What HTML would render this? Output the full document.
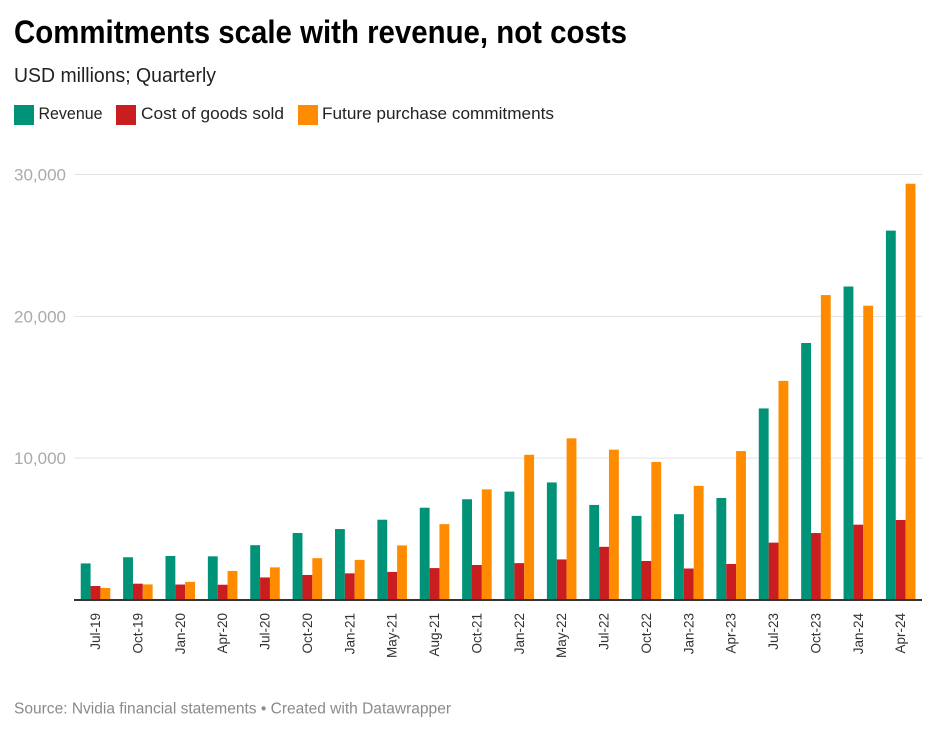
<!DOCTYPE html>
<html>
<head>
<meta charset="utf-8">
<style>
html,body{margin:0;padding:0;background:#fff;width:936px;height:732px;overflow:hidden}
svg{display:block;font-family:"Liberation Sans",sans-serif}
</style>
</head>
<body>
<svg id="chart" width="936" height="732" viewBox="0 0 936 732" xmlns="http://www.w3.org/2000/svg">
  <text x="14" y="43" font-size="32" font-weight="700" fill="#000" textLength="613" lengthAdjust="spacingAndGlyphs">Commitments scale with revenue, not costs</text>
  <text x="14" y="82" font-size="20" fill="#222" textLength="202" lengthAdjust="spacingAndGlyphs">USD millions; Quarterly</text>
  <g>
    <rect x="14" y="105" width="20" height="20" fill="#009378"/>
    <text x="38.5" y="119" font-size="17" fill="#222" textLength="64" lengthAdjust="spacingAndGlyphs">Revenue</text>
    <rect x="116" y="105" width="20" height="20" fill="#c91d1f"/>
    <text x="141" y="119" font-size="16.5" fill="#222" textLength="143" lengthAdjust="spacingAndGlyphs">Cost of goods sold</text>
    <rect x="298" y="105" width="20" height="20" fill="#ff8c00"/>
    <text x="322" y="119" font-size="16.5" fill="#222" textLength="232" lengthAdjust="spacingAndGlyphs">Future purchase commitments</text>
  </g>
  <g id="grid"></g>
  <g id="bars"></g>
  <g id="xlabels"></g>
  <rect x="74" y="599" width="848" height="2" fill="#333"/>
  <text x="14" y="713.5" font-size="15.5" fill="#8a8a8a" textLength="437" lengthAdjust="spacingAndGlyphs">Source: Nvidia financial statements • Created with Datawrapper</text>
</svg>
<script>
const categories = ["Jul-19","Oct-19","Jan-20","Apr-20","Jul-20","Oct-20","Jan-21","May-21","Aug-21","Oct-21","Jan-22","May-22","Jul-22","Oct-22","Jan-23","Apr-23","Jul-23","Oct-23","Jan-24","Apr-24"];
const revenue = [2579,3014,3105,3080,3866,4726,5003,5661,6507,7103,7643,8288,6704,5931,6051,7192,13507,18120,22103,26044];
const costOfGoods = [986,1150,1090,1076,1590,1766,1880,1980,2250,2470,2600,2860,3750,2750,2220,2540,4045,4720,5310,5640];
const commitments = [850,1100,1280,2050,2300,2950,2830,3850,5350,7800,10240,11400,10600,9730,8050,10500,15450,21500,20750,29350];
const yTicks = [10000,20000,30000];
const yTickLabels = ["10,000","20,000","30,000"];

const NS = "http://www.w3.org/2000/svg";
const plotBottom = 600, pxPerUnit = 425.5 / 30000;
const firstCenter = 95.5, groupPitch = (900.7 - 95.5) / 19, barWidth = 9.85;
function yScale(v){ return plotBottom - v * pxPerUnit; }
function xScale(i){ return firstCenter + i * groupPitch; }

const gridGroup = document.getElementById("grid");
yTicks.forEach(function(t, i){
  const y = yScale(t);
  const line = document.createElementNS(NS, "line");
  
  
  line.setAttribute("x1", 74);
  line.setAttribute("x2", 922);
  line.setAttribute("y1", y);
  line.setAttribute("y2", y);
  line.setAttribute("stroke", "#e3e3e3");
  line.setAttribute("stroke-width", "1");
  gridGroup.appendChild(line);
  const label = document.createElementNS(NS, "text");
  
  
  label.setAttribute("x", 14);
  label.setAttribute("y", y + 6);
  label.setAttribute("font-size", "17");
  label.setAttribute("fill", "#aaaaaa");
  label.setAttribute("textLength", "52");
  label.setAttribute("lengthAdjust", "spacingAndGlyphs");
  label.textContent = yTickLabels[i];
  gridGroup.appendChild(label);
});

const barsGroup = document.getElementById("bars");
function drawSeries(values, offset, color, name){
  values.forEach(function(v, i){
    const r = document.createElementNS(NS, "rect");
    
    
    r.setAttribute("x", xScale(i) + offset * barWidth - barWidth / 2);
    r.setAttribute("y", yScale(v));
    r.setAttribute("width", barWidth);
    r.setAttribute("height", plotBottom - yScale(v));
    r.setAttribute("fill", color);
    barsGroup.appendChild(r);
  });
}
drawSeries(revenue, -1, "#009378", "bar-revenue");
drawSeries(costOfGoods, 0, "#c91d1f", "bar-cost-of-goods-sold");
drawSeries(commitments, 1, "#ff8c00", "bar-future-purchase-commitments");

const xGroup = document.getElementById("xlabels");
categories.forEach(function(c, i){
  const x = xScale(i) + 4.5, y = 613;
  const t = document.createElementNS(NS, "text");
  
  
  t.setAttribute("x", x);
  t.setAttribute("y", y);
  t.setAttribute("font-size", "13.5");
  t.setAttribute("fill", "#333");
  t.setAttribute("text-anchor", "end");
  t.setAttribute("transform", "rotate(-90 " + x + " " + y + ")");
  t.textContent = c;
  xGroup.appendChild(t);
});
</script>
</body>
</html>
